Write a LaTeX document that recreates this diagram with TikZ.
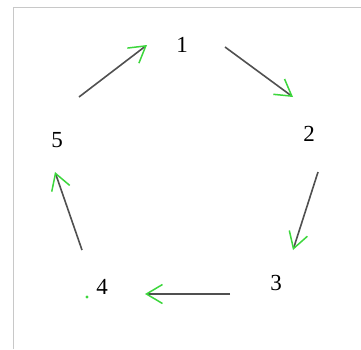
\documentclass[tikz,border=0pt]{standalone}
\usepackage{fontspec}
\setmainfont{Liberation Serif}
\usetikzlibrary{arrows.meta}
\definecolor{headgreen}{RGB}{60,215,60}
\definecolor{linegray}{RGB}{80,80,80}
\definecolor{framegray}{RGB}{200,200,200}
\begin{document}
\begin{tikzpicture}[x=1pt,y=-1pt,
  lbl/.style={inner sep=0pt, font=\fontsize{23}{26}\selectfont},
  arr/.style={draw=linegray, line width=1.6pt,
    -{Straight Barb[color=headgreen, length=16pt, width=19pt, line width=1.5pt]}}]
\useasboundingbox (0,0) rectangle (361,349);
\fill[white] (0,0) rectangle (361,349);
\draw[framegray, line width=1pt] (13,349) -- (13,7) -- (361,7);
\node[lbl] (n1) at (182,45) {1};
\node[lbl] (n2) at (309,134) {2};
\node[lbl] (n3) at (276,283) {3};
\node[lbl] (n4) at (102,287) {4};
\node[lbl] (n5) at (57,140) {5};
\coordinate (s51) at (79,97);   \coordinate (e51) at (147,45);
\coordinate (s12) at (225,47);  \coordinate (e12) at (293,97);
\coordinate (s23) at (318,172); \coordinate (e23) at (293,250);
\coordinate (s34) at (230,294); \coordinate (e34) at (145,294);
\coordinate (s45) at (82,250);  \coordinate (e45) at (55,172);
\draw[arr] (s51) -- (e51);
\draw[arr] (s12) -- (e12);
\draw[arr] (s23) -- (e23);
\draw[arr] (s34) -- (e34);
\draw[arr] (s45) -- (e45);
\fill[headgreen] (87,297) circle (1.6pt);
\end{tikzpicture}
\end{document}
